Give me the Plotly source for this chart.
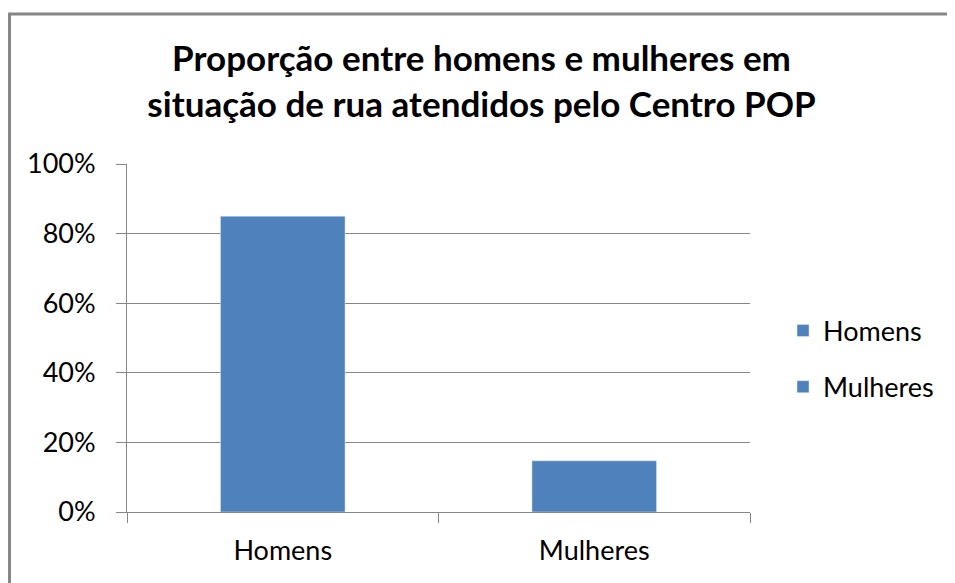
import plotly.graph_objects as go

categories = ["Homens", "Mulheres"]
values = [0.85, 0.147]
bar_color = "#4F81BD"
grid = "#868686"

fig = go.Figure()
for c, v in zip(categories, values):
    fig.add_trace(go.Bar(x=[c], y=[v], name=c, marker_color=bar_color,
                         legendgroup=c, width=0.4))

# page body has an 8px margin: work in page pixels, shift by OFF
OFF = 8
W, H = 955 - OFF, 583 - OFF
L, R, T, B = 127 - OFF, 750 - OFF, 164 - OFF, 512 - OFF
pw, ph = R - L, B - T

def px_x(x):
    return (x - OFF - L) / pw

def px_y(y):
    return (B - (y - OFF)) / ph

fig.update_layout(
    width=W, height=H,
    margin=dict(l=L, r=W - R, t=T, b=H - B, pad=0),
    paper_bgcolor="white", plot_bgcolor="white",
    barmode="overlay",
    font=dict(family="Lato, Open Sans, sans-serif", color="#000000"),
    title=dict(
        text="<b>Proporção entre homens e mulheres em<br>situação de rua atendidos pelo Centro POP</b>",
        x=0.5, xref="container", xanchor="center",
        y=1 - (71 - OFF) / H, yref="container", yanchor="middle",
        font=dict(size=35, family="Lato, sans-serif", color="#000000"),
    ),
    legend=dict(
        x=px_x(783), y=px_y(359), xref="paper", yref="paper",
        xanchor="left", yanchor="middle",
        font=dict(size=27, color="#000000"),
        tracegroupgap=18, itemwidth=30, bgcolor="rgba(0,0,0,0)",
    ),
    xaxis=dict(
        type="category", tickson="boundaries", ticks="outside", ticklen=10,
        tickcolor=grid, showline=True, linecolor=grid, linewidth=1,
        showgrid=False, tickfont=dict(size=27), range=[-0.5, 1.5],
        ticklabelstandoff=15,
    ),
    yaxis=dict(
        range=[0, 1], dtick=0.2, tickformat=".0%", ticks="outside", ticklen=10,
        tickcolor=grid, showline=True, linecolor=grid, linewidth=1,
        showgrid=True, gridcolor=grid, gridwidth=1, zeroline=False,
        tickfont=dict(size=27), ticklabelstandoff=15,
    ),
    shapes=[
        dict(type="line", xref="paper", yref="paper",
             x0=px_x(9.5), x1=px_x(9.5), y0=px_y(13), y1=px_y(600),
             line=dict(color=grid, width=3)),
        dict(type="line", xref="paper", yref="paper",
             x0=px_x(8), x1=px_x(960), y0=px_y(14), y1=px_y(14),
             line=dict(color=grid, width=3)),
    ],
)

fig.write_html("out.html")
